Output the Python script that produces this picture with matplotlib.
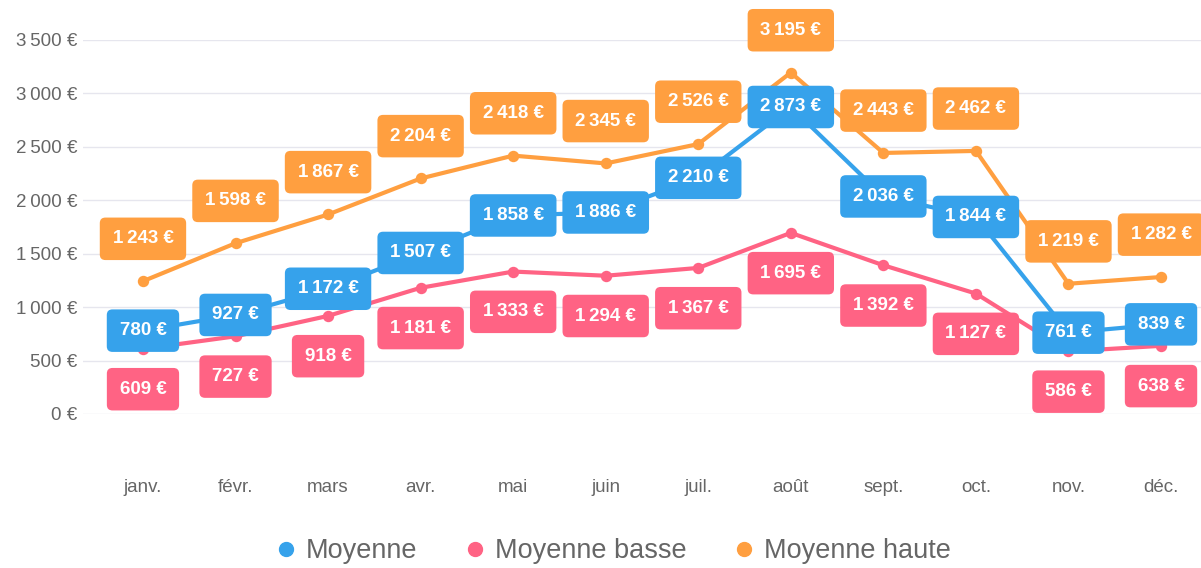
import matplotlib
matplotlib.use("Agg")
import matplotlib.pyplot as plt
from matplotlib.lines import Line2D

months = ["janv.", "févr.", "mars", "avr.", "mai", "juin",
          "juil.", "août", "sept.", "oct.", "nov.", "déc."]
moyenne = [780, 927, 1172, 1507, 1858, 1886, 2210, 2873, 2036, 1844, 761, 839]
moyenne_basse = [609, 727, 918, 1181, 1333, 1294, 1367, 1695, 1392, 1127, 586, 638]
moyenne_haute = [1243, 1598, 1867, 2204, 2418, 2345, 2526, 3195, 2443, 2462, 1219, 1282]
yticks = [0, 500, 1000, 1500, 2000, 2500, 3000, 3500]

BLUE, PINK, ORANGE = "#36a2eb", "#ff6384", "#ff9f40"
FONT = ["Liberation Sans", "DejaVu Sans"]
plt.rcParams["font.family"] = FONT


def euro(v):
    s = f"{v:,}".replace(",", "\u2009")
    return s + " €"


fig = plt.figure(figsize=(12.01, 5.68), dpi=100)
ax = fig.add_axes([83 / 1201, 1 - 414 / 568, 1 - 83 / 1201, (414 - 40) / 568])

x = list(range(len(months)))
series = [
    (moyenne, BLUE, 0, 5),
    (moyenne_basse, PINK, -29, 3),
    (moyenne_haute, ORANGE, 30.5, 4),
]
for vals, col, dy, z in series:
    ax.plot(x, vals, color=col, lw=3, zorder=z, marker="o", ms=7,
            mfc=col, mec=col, mew=1.2)

# labels: pink below, orange above, blue on the point
for vals, col, dy, z in [series[1], series[2], series[0]]:
    for xi, v in zip(x, vals):
        ax.annotate(euro(v), (xi, v), xytext=(0, dy), textcoords="offset points",
                    ha="center", va="center", color="white", fontsize=13.5,
                    fontweight="bold", family=FONT, zorder=10 + z,
                    annotation_clip=False,
                    bbox=dict(boxstyle="round,pad=0.68,rounding_size=0.3",
                              fc=col, ec="none"))

ax.set_xlim(-0.648, 11.432)
ax.set_ylim(0, 3500)
ax.set_yticks(yticks)
ax.set_yticklabels([euro(v) for v in yticks])
ax.set_xticks(x)
ax.set_xticklabels(months)
ax.tick_params(axis="y", length=0, pad=4, labelsize=13.5, labelcolor="#666666")
ax.tick_params(axis="x", length=0, pad=47, labelsize=13.5, labelcolor="#666666")
ax.grid(axis="y", color="#e6e6ee", lw=1)
ax.set_axisbelow(True)
for sp in ax.spines.values():
    sp.set_visible(False)

handles = [Line2D([], [], ls="none", marker="o", ms=10, color=c)
           for c in (BLUE, PINK, ORANGE)]
fig.legend(handles, ["Moyenne", "Moyenne basse", "Moyenne haute"],
           loc="center", bbox_to_anchor=(0.5104, 1 - 551 / 568), ncol=3,
           frameon=False, fontsize=19.5, labelcolor="#666666",
           handlelength=0.8, handletextpad=0.35, columnspacing=1.72)

fig.savefig("out.png", dpi=100)
